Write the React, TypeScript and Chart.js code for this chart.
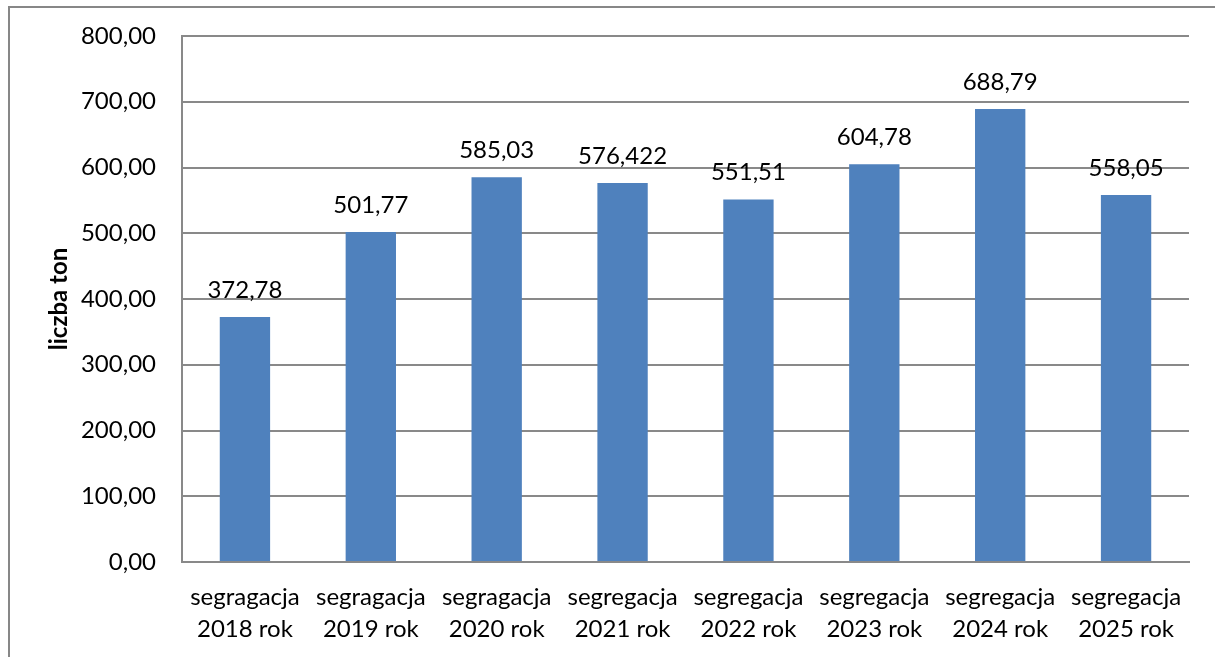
import React, { useEffect, useRef } from "react";
import { Chart, registerables } from "chart.js";

Chart.register(...registerables);

const categories: string[][] = [
  ["segragacja", "2018 rok"],
  ["segragacja", "2019 rok"],
  ["segragacja", "2020 rok"],
  ["segregacja", "2021 rok"],
  ["segregacja", "2022 rok"],
  ["segregacja", "2023 rok"],
  ["segregacja", "2024 rok"],
  ["segregacja", "2025 rok"],
];
const values: number[] = [372.78, 501.77, 585.03, 576.422, 551.51, 604.78, 688.79, 558.05];
const valueLabels: string[] = ["372,78", "501,77", "585,03", "576,422", "551,51", "604,78", "688,79", "558,05"];
const yTitle = "liczba ton";

const FONT = "Lato, 'Open Sans', sans-serif";
const GRID = "#898989";

const dataLabelPlugin = {
  id: "dataLabels",
  afterDatasetsDraw(chart: any) {
    const ctx = chart.ctx;
    const meta = chart.getDatasetMeta(0);
    ctx.save();
    ctx.font = `24px ${FONT}`;
    ctx.fillStyle = "#000";
    ctx.textAlign = "center";
    ctx.textBaseline = "alphabetic";
    meta.data.forEach((el: any, i: number) => {
      ctx.fillText(valueLabels[i], el.x, el.y - 19);
    });
    ctx.restore();
  },
};

export default function App() {
  const ref = useRef<HTMLCanvasElement | null>(null);
  useEffect(() => {
    if (!ref.current) return;
    const chart = new Chart(ref.current, {
      type: "bar",
      data: {
        labels: categories,
        datasets: [
          {
            data: values,
            backgroundColor: "#4F81BD",
            barPercentage: 0.4,
            categoryPercentage: 1,
          },
        ],
      },
      options: {
        animation: false,
        responsive: false,
        layout: { padding: { top: 36, right: 26, left: 0, bottom: 0 } },
        plugins: { legend: { display: false }, tooltip: { enabled: false } },
        scales: {
          x: {
            grid: { display: false, drawTicks: false },
            border: { color: GRID, width: 2 },
            ticks: { color: "#000", font: { family: FONT, size: 24, lineHeight: 1.3 }, padding: 20, maxRotation: 0, autoSkip: false },
            afterFit: (s: any) => { s.height = 95; },
          },
          y: {
            min: 0,
            max: 800,
            ticks: {
              stepSize: 100,
              color: "#000",
              font: { family: FONT, size: 24 },
              padding: 26,
              callback: (v: any) => Number(v).toFixed(2).replace(".", ","),
            },
            grid: { color: GRID, lineWidth: 2, drawTicks: false },
            border: { color: GRID, width: 2 },
            title: { display: true, text: yTitle, color: "#000", font: { family: FONT, size: 24, weight: "bold" }, padding: { top: 45, bottom: 0 } },
            afterFit: (s: any) => { s.width = 182; s.paddingTop = 0; s.paddingBottom = 0; },
          },
        },
      },
      plugins: [dataLabelPlugin],
    });
    return () => chart.destroy();
  }, []);
  return (
    <div style={{ position: "fixed", left: 0, top: 0, width: 1215, height: 657, background: "#fff", overflow: "hidden" }}>
      <div style={{ position: "absolute", left: 8, top: 6, width: 1300, height: 800, border: "2px solid #878787", boxSizing: "border-box" }} />
      <canvas ref={ref} width={1215} height={657} style={{ position: "absolute", left: 0, top: 0 }} />
    </div>
  );
}
